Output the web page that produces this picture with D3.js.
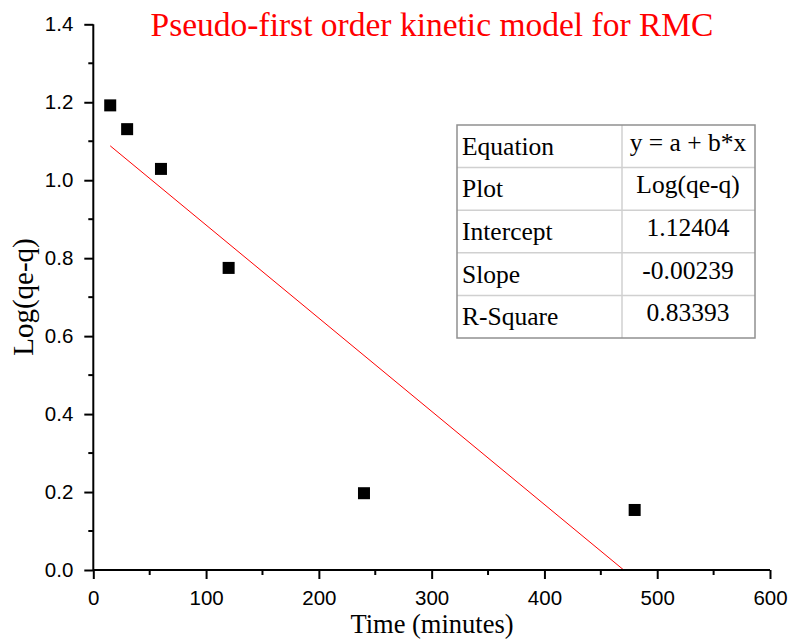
<!DOCTYPE html>
<html><head><meta charset="utf-8">
<script src="https://cdn.jsdelivr.net/npm/d3@7"></script>
<style>body{margin:0;background:#fff}</style>
</head><body>
<svg id="c" width="792" height="639"></svg>
<script>
const time = [15, 30, 60, 120, 240, 480];
const logq = [1.192, 1.131, 1.029, 0.775, 0.197, 0.154];
const fitIntercept = 1.12404;
const fitSlope = -0.00239;
const xTicks = [0, 100, 200, 300, 400, 500, 600];
const yTicks = [0, 0.2, 0.4, 0.6, 0.8, 1.0, 1.2, 1.4];
const tableLabels = ["Equation", "Plot", "Intercept", "Slope", "R-Square"];
const tableValues = ["y = a + b*x", "Log(qe-q)", "1.12404", "-0.00239", "0.83393"];

const svg = d3.select("#c");
const x = d3.scaleLinear().domain([0, 600]).range([93.3, 770]);
const y = d3.scaleLinear().domain([0, 1.4]).range([570, 24.3]);
const serif = "'Liberation Serif','Times New Roman',serif";
const sans = "'Liberation Sans',Arial,sans-serif";

// fit line
const xEnd = -fitIntercept / fitSlope;
svg.append("line")
  .attr("x1", x(time[0])).attr("y1", y(fitIntercept + fitSlope * time[0]))
  .attr("x2", x(xEnd)).attr("y2", y(0))
  .attr("stroke", "#ff0000").attr("stroke-width", 1);

// points
svg.selectAll("rect.pt").data(time).enter().append("rect")
  .attr("x", (d) => x(d) - 6).attr("y", (d, i) => y(logq[i]) - 6)
  .attr("width", 12).attr("height", 12).attr("fill", "#000");

// axes
const xAxis = d3.axisBottom(x).tickValues(xTicks).tickSize(9).tickPadding(11).tickFormat(d3.format("d"));
const gx = svg.append("g").attr("transform", "translate(0,570)").call(xAxis);
const yAxis = d3.axisLeft(y).tickValues(yTicks).tickSize(9).tickPadding(11).tickFormat(d3.format(".1f"));
const gy = svg.append("g").attr("transform", "translate(93.3,0)").call(yAxis);
[gx, gy].forEach(g => {
  g.attr("font-family", sans).attr("font-size", 20.5);
  g.select(".domain").attr("stroke-width", 2).attr("stroke", "#000");
  g.selectAll(".tick line").attr("stroke-width", 2).attr("stroke", "#000");
  g.selectAll("text").attr("fill", "#000");
});
gx.select(".domain").attr("d", `M${x(0)},0H${x(600)}`);
gy.select(".domain").attr("d", `M0,${y(0)}V${y(1.4)}`);

// minor ticks
const xMinor = d3.range(50, 600, 100);
svg.append("g").selectAll("line").data(xMinor).enter().append("line")
  .attr("x1", d => x(d)).attr("x2", d => x(d)).attr("y1", 570).attr("y2", 575)
  .attr("stroke", "#000").attr("stroke-width", 2);
const yMinor = d3.range(0.1, 1.4, 0.2);
svg.append("g").selectAll("line").data(yMinor).enter().append("line")
  .attr("x1", 93.3).attr("x2", 88.3).attr("y1", d => y(d)).attr("y2", d => y(d))
  .attr("stroke", "#000").attr("stroke-width", 2);

// title
svg.append("text").attr("x", 432).attr("y", 36).attr("text-anchor", "middle")
  .attr("font-family", serif).attr("font-size", 33.5).attr("fill", "#ff0000")
  .text("Pseudo-first order kinetic model for RMC");

// axis labels
svg.append("text").attr("x", 432).attr("y", 632.7).attr("text-anchor", "middle")
  .attr("font-family", serif).attr("font-size", 26.5).attr("fill", "#000")
  .text("Time (minutes)");
svg.append("text").attr("transform", "translate(33,297) rotate(-90)").attr("text-anchor", "middle")
  .attr("font-family", serif).attr("font-size", 29).attr("fill", "#000")
  .text("Log(qe-q)");

// table
const tx0 = 457, tx1 = 755, tcol = 622, ty0 = 125, ty1 = 338;
const rowY = d3.scaleBand().domain(d3.range(tableLabels.length)).range([ty0, ty1]);
const tg = svg.append("g");
tg.selectAll("line.row").data(d3.range(1, tableLabels.length)).enter().append("line")
  .attr("x1", tx0).attr("x2", tx1).attr("y1", d => rowY(d)).attr("y2", d => rowY(d))
  .attr("stroke", "#d0d0d0").attr("stroke-width", 1.5);
tg.append("line").attr("x1", tcol).attr("x2", tcol).attr("y1", ty0).attr("y2", ty1)
  .attr("stroke", "#d0d0d0").attr("stroke-width", 1.5);
tg.append("rect").attr("x", tx0).attr("y", ty0).attr("width", tx1 - tx0).attr("height", ty1 - ty0)
  .attr("fill", "none").attr("stroke", "#909090").attr("stroke-width", 1.5);
tg.selectAll("text.lab").data(tableLabels).enter().append("text")
  .attr("x", 462).attr("y", (d, i) => rowY(i) + rowY.bandwidth() / 2 + 8.5)
  .attr("font-family", serif).attr("font-size", 25.5).attr("fill", "#000").text(d => d);
tg.selectAll("text.val").data(tableValues).enter().append("text")
  .attr("x", 688).attr("y", (d, i) => rowY(i) + rowY.bandwidth() / 2 + 4.5)
  .attr("text-anchor", "middle")
  .attr("font-family", serif).attr("font-size", 25.5).attr("fill", "#000").text(d => d);
</script>
</body></html>
